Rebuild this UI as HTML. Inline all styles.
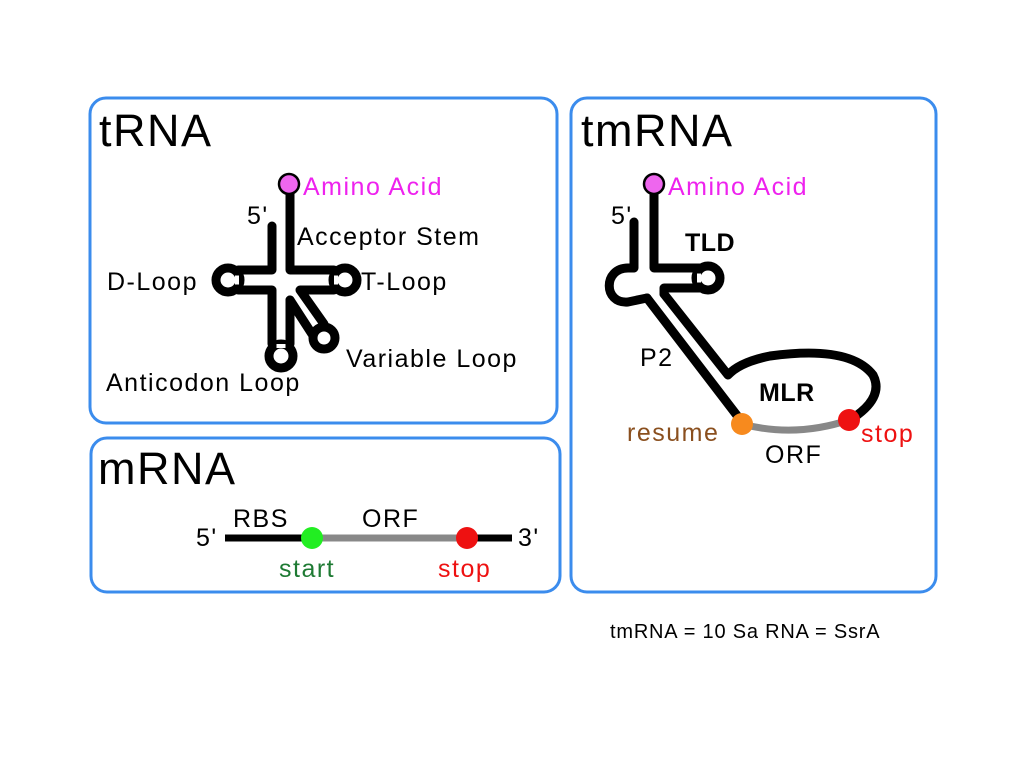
<!DOCTYPE html>
<html><head><meta charset="utf-8"><style>
html,body{margin:0;padding:0;background:#fff}
svg{display:block}
text{font-family:"Liberation Sans",Arial,sans-serif}
.l{font-size:25px;letter-spacing:1.5px}
</style></head><body>
<svg width="1024" height="768" viewBox="0 0 1024 768" xmlns="http://www.w3.org/2000/svg">
<g fill="none" stroke="#3b8ced" stroke-width="3">
<rect x="90" y="98" width="467" height="325" rx="16"/>
<rect x="91" y="438" width="469" height="154" rx="16"/>
<rect x="571" y="98" width="365" height="494" rx="16"/>
</g>
<g font-size="45" fill="#000" letter-spacing="1.5">
<text x="99" y="146">tRNA</text>
<text x="98" y="484">mRNA</text>
<text x="581" y="146">tmRNA</text>
</g>
<!-- tRNA -->
<g stroke="#000" stroke-width="9" fill="none" stroke-linecap="round" stroke-linejoin="round">
<path d="M290,194 V270 H334"/>
<path d="M272,226 V270 H238"/>
<path d="M238,290 H272 V344"/>
<path d="M290,344 V300"/>
<path d="M334,290 H300 L324,324"/>
<path d="M290,300 L312,334"/>
<circle cx="345" cy="280" r="12" fill="#fff"/>
<circle cx="228" cy="280" r="12" fill="#fff"/>
<circle cx="281" cy="356" r="12" fill="#fff"/>
<circle cx="324" cy="338" r="11" fill="#fff"/>
</g>
<g stroke="#fff" stroke-width="9">
<line x1="334" y1="280" x2="338" y2="280"/>
<line x1="235" y1="280" x2="239" y2="280"/>
<line x1="281" y1="344" x2="281" y2="348"/>
</g>
<circle cx="289" cy="184" r="10" fill="#ee66ee" stroke="#000" stroke-width="2.5"/>
<g class="l" fill="#000">
<text x="303" y="195" fill="#ee22ee">Amino Acid</text>
<text x="247" y="224">5'</text>
<text x="297" y="245">Acceptor Stem</text>
<text x="107" y="290">D-Loop</text>
<text x="361" y="290">T-Loop</text>
<text x="346" y="367">Variable Loop</text>
<text x="106" y="391">Anticodon Loop</text>
</g>
<!-- mRNA -->
<line x1="225" y1="538" x2="312" y2="538" stroke="#000" stroke-width="7"/>
<line x1="312" y1="538" x2="467" y2="538" stroke="#888" stroke-width="7"/>
<line x1="467" y1="538" x2="512" y2="538" stroke="#000" stroke-width="7"/>
<circle cx="312" cy="538" r="11" fill="#22ee22"/>
<circle cx="467" cy="538" r="11" fill="#ee1111"/>
<g class="l" fill="#000">
<text x="196" y="546">5'</text>
<text x="518" y="546">3'</text>
<text x="233" y="527">RBS</text>
<text x="362" y="527">ORF</text>
<text x="279" y="577" fill="#1e7a33">start</text>
<text x="438" y="577" fill="#ee1111">stop</text>
</g>
<!-- tmRNA -->
<g stroke="#000" stroke-width="9" fill="none" stroke-linecap="round" stroke-linejoin="round">
<path d="M654,194 V268 H700"/>
<path d="M634,222 V268 H628"/>
<path d="M647,298 L742,422"/>
<path d="M664,294 L728,375 Q740,362 770,356 Q850,345 873,375 Q885,398 850,420"/>
<circle cx="708" cy="278" r="12" fill="#fff"/>
<path d="M628,268 C603,268 603,304 628,302 L647,298" />
<path d="M700,288 H664 L664,294"/>
</g>
<path d="M742,424 Q795,438 849,420" stroke="#888" stroke-width="7" fill="none"/>
<line x1="697" y1="278" x2="701" y2="278" stroke="#fff" stroke-width="9"/>
<circle cx="654" cy="184" r="10" fill="#ee66ee" stroke="#000" stroke-width="2.5"/>
<circle cx="742" cy="424" r="11" fill="#f78a1e"/>
<circle cx="849" cy="420" r="11" fill="#ee1111"/>
<g class="l" fill="#000">
<text x="668" y="195" fill="#ee22ee">Amino Acid</text>
<text x="611" y="224">5'</text>
<text x="685" y="251" font-weight="bold" letter-spacing="0.5">TLD</text>
<text x="640" y="366">P2</text>
<text x="759" y="401" font-weight="bold" letter-spacing="0.5">MLR</text>
<text x="627" y="441" fill="#8a4f1e">resume</text>
<text x="861" y="442" fill="#ee1111">stop</text>
<text x="765" y="463">ORF</text>
</g>
<text x="610" y="638" font-size="20" letter-spacing="0.8" fill="#000">tmRNA = 10 Sa RNA = SsrA</text>
</svg>
</body></html>
